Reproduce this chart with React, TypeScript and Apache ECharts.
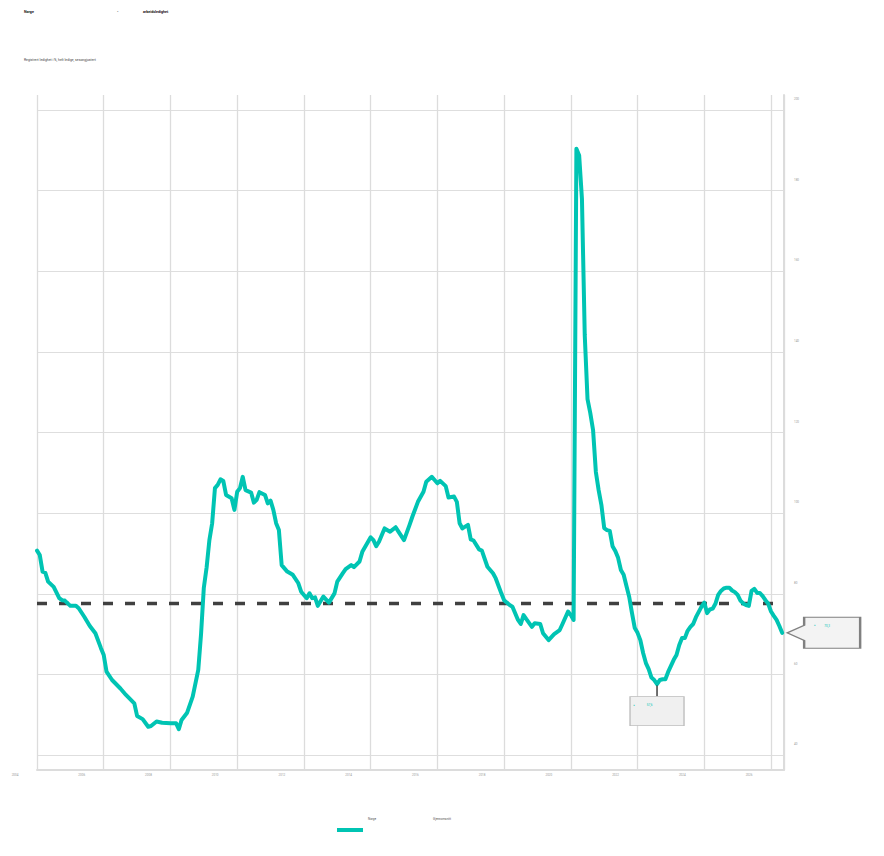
import React, { useEffect, useRef } from "react";
import * as echarts from "echarts";

// ---- data ----
const dates: string[] = [
  "2004-01","2004-02","2004-03","2004-04","2004-05","2004-07","2004-09","2004-10","2004-11",
  "2005-01","2005-03","2005-04","2005-06","2005-08","2005-10","2005-12",
  "2006-01","2006-02","2006-04","2006-07","2006-09","2006-12",
  "2007-01","2007-03","2007-05","2007-06","2007-08","2007-10",
  "2008-01","2008-03","2008-04","2008-05","2008-07","2008-09","2008-11","2008-12",
  "2009-01","2009-02","2009-03","2009-04","2009-05","2009-06","2009-07","2009-08","2009-09","2009-11","2009-12",
  "2010-01","2010-02","2010-03","2010-04","2010-06","2010-07","2010-08","2010-09","2010-11","2010-12",
  "2011-01","2011-02","2011-03","2011-04","2011-05","2011-07","2011-09","2011-11","2011-12",
  "2012-01","2012-02","2012-03","2012-04","2012-05","2012-06","2012-08","2012-10","2012-12",
  "2013-01","2013-03","2013-04","2013-06","2013-07","2013-09","2013-10",
  "2014-01","2014-02","2014-03","2014-04","2014-06","2014-08","2014-10","2014-11",
  "2015-01","2015-03","2015-04","2015-06","2015-08","2015-09","2015-11","2015-12",
  "2016-01","2016-02","2016-04","2016-05","2016-07","2016-08","2016-09","2016-10","2016-12",
  "2017-01","2017-02","2017-04","2017-05","2017-07","2017-09","2017-10","2017-12",
  "2018-01","2018-03","2018-04","2018-06","2018-07","2018-08","2018-09","2018-11","2018-12",
  "2019-02","2019-03","2019-05","2019-07","2019-09","2019-10","2019-12",
  "2020-01","2020-02","2020-03","2020-04","2020-05","2020-06","2020-07","2020-08","2020-09","2020-10","2020-11","2020-12",
  "2021-01","2021-02","2021-03","2021-04","2021-05","2021-06","2021-07","2021-08","2021-09","2021-10","2021-11","2021-12",
  "2022-01","2022-02","2022-03","2022-04","2022-05","2022-06","2022-07","2022-08","2022-09","2022-10","2022-11","2022-12",
  "2023-01","2023-02","2023-03","2023-04","2023-05","2023-06","2023-07","2023-08","2023-09","2023-10","2023-11","2023-12",
  "2024-01","2024-02","2024-03","2024-04","2024-05","2024-06","2024-07","2024-08","2024-09","2024-10","2024-11","2024-12",
  "2025-01","2025-02","2025-03","2025-04","2025-05","2025-06","2025-07","2025-08","2025-09","2025-10","2025-11","2025-12",
  "2026-01","2026-02","2026-03","2026-04","2026-05",
];

const values: number[] = [
  90.7,89.6,85.5,85.2,83.0,81.7,78.9,78.4,78.3,
  77.0,77.0,76.4,74.3,72.0,70.2,66.5,
  64.8,60.7,58.6,56.5,54.9,52.8,
  49.7,48.9,47.0,47.2,48.3,48.0,
  47.9,47.9,46.4,48.7,50.5,54.5,61.1,70.0,
  81.5,86.5,93.3,97.5,106.2,107.0,108.4,108.0,104.5,103.7,100.8,
  105.3,106.2,109.0,105.7,105.1,102.6,103.3,105.2,104.5,102.4,
  103.1,100.8,97.5,95.8,87.1,85.5,84.7,82.6,80.5,
  79.7,78.9,80.1,78.9,79.1,77.0,79.3,77.8,80.1,
  83.0,85.1,86.1,87.1,86.6,88.0,90.4,
  94.0,93.3,91.8,92.9,96.2,95.4,96.5,95.4,
  93.3,97.1,99.1,102.8,105.3,107.8,109.0,108.2,
  107.4,108.0,106.7,103.9,104.1,102.8,97.5,96.2,97.1,
  93.5,93.2,91.0,90.7,86.7,85.1,83.8,80.1,
  78.4,77.2,76.8,73.5,72.5,74.7,73.7,71.8,72.7,
  72.5,70.2,68.5,70.0,71.0,72.5,75.6,
  74.7,73.5,190.4,188.7,177.9,144.2,128.3,124.8,120.6,110.2,105.7,102.0,
  96.3,95.8,95.6,91.8,90.6,88.9,85.9,84.7,81.9,79.2,75.2,71.5,
  70.3,68.5,65.3,62.8,61.3,59.2,58.6,57.6,58.6,58.8,58.8,60.6,
  62.1,63.6,64.8,67.3,69.0,69.0,70.8,71.8,72.5,74.2,75.5,76.8,
  77.8,75.2,76.1,76.3,77.5,79.7,80.7,81.3,81.5,81.5,80.8,80.4,
  79.7,78.3,77.6,77.2,77.0,80.7,81.2,80.2,80.2,79.4,78.4,77.5,
  75.6,74.5,73.5,72.0,70.3,
];

const averageValue = 77.6;
const annotatedDates = ["2022-08", "2026-05"];

const seriesName = "Norge";
const averageName = "Gjennomsnitt";
const titleLeft = "Norge";
const titleSep = "-";
const titleRight = "arbeidsledighet";
const subtitle = "Registrert ledighet i %, helt ledige, sesongjustert";

const xMin = 2004;
const xMax = 2026.389;
const xInterval = 2;
const yMin = 40;
const yMax = 200;
const yInterval = 20;

const TEAL = "#00c4b3";
const FONT = "Roboto, 'Noto Sans', sans-serif";
// legend icon: a bar sitting low in a square box, so the label reads above it
const LEGEND_ICON = "path://M0,0 h0.5 v0.02 h-0.5 Z M0,22 h26 v4 h-26 Z";

const toYear = (s: string) => {
  const [y, m] = s.split("-").map(Number);
  return y + (m - 1) / 12;
};

export default function App() {
  const ref = useRef<HTMLDivElement>(null);

  useEffect(() => {
    if (!ref.current) return;
    const chart = echarts.init(ref.current, undefined, { renderer: "svg" });

    const lineData = dates.map((d, i) => [toYear(d), values[i]]);
    const first = toYear(dates[0]);
    const last = toYear(dates[dates.length - 1]);
    const avgData = [
      [first, averageValue],
      [last, averageValue],
    ];
    const minIdx = dates.indexOf(annotatedDates[0]);
    const lastIdx = dates.indexOf(annotatedDates[1]);
    const fmt = (v: number) => v.toFixed(1).replace(".", ",");

    const option: any = {
      animation: false,
      textStyle: { fontFamily: FONT },
      graphic: [
        { type: "text", left: 24, top: 10, style: { text: titleLeft, font: `bold 3.6px ${FONT}`, fill: "#111" } },
        { type: "text", left: 117, top: 10, style: { text: titleSep, font: `bold 3.6px ${FONT}`, fill: "#111" } },
        { type: "text", left: 143, top: 10, style: { text: titleRight, font: `bold 3.6px ${FONT}`, fill: "#111" } },
        { type: "text", left: 24, top: 58, style: { text: subtitle, font: `3.4px ${FONT}`, fill: "#444" } },
      ],
      legend: {
        left: 337,
        top: 806,
        padding: 0,
        itemWidth: 26,
        itemHeight: 26,
        itemGap: 26,
        textStyle: { fontSize: 3, color: "#555" },
        data: [
          { name: seriesName, icon: LEGEND_ICON, itemStyle: { color: TEAL } },
          { name: averageName, icon: LEGEND_ICON, itemStyle: { color: "#ffffff", opacity: 0 } },
        ],
      },
      grid: [
        { left: 37, right: 100, top: 110, bottom: 101 },
        { left: 37, right: 100, top: 95, bottom: 86 },
      ],
      xAxis: [
        {
          gridIndex: 0,
          type: "value",
          min: xMin,
          max: xMax,
          interval: xInterval,
          show: false,
          splitLine: { show: false },
        },
        {
          gridIndex: 1,
          type: "value",
          min: xMin,
          max: xMax,
          interval: xInterval,
          axisLine: { show: true, lineStyle: { color: "#dcdcdc", width: 2 } },
          axisTick: { show: false },
          splitLine: { show: true, lineStyle: { color: "#dcdcdc", width: 1.3 } },
          axisLabel: {
            fontSize: 3,
            color: "#999",
            margin: 3,
            padding: [0, 44, 0, 0],
            showMaxLabel: false,
            formatter: (v: number) => String(Math.round(v)),
          },
        },
      ],
      yAxis: [
        {
          gridIndex: 0,
          type: "value",
          position: "right",
          min: yMin,
          max: yMax,
          interval: yInterval,
          axisLine: { show: false },
          axisTick: { show: false },
          splitLine: { show: true, lineStyle: { color: "#dedede", width: 1 } },
          axisLabel: {
            fontSize: 3,
            color: "#999",
            margin: 10,
            verticalAlign: "bottom",
            lineHeight: 22,
          },
        },
        {
          gridIndex: 1,
          type: "value",
          position: "right",
          min: 0,
          max: 1,
          axisLine: { show: true, lineStyle: { color: "#dcdcdc", width: 2 } },
          axisTick: { show: false },
          axisLabel: { show: false },
          splitLine: { show: false },
        },
      ],
      series: [
        {
          name: averageName,
          type: "line",
          xAxisIndex: 0,
          yAxisIndex: 0,
          data: avgData,
          symbol: "none",
          lineStyle: { color: "#404040", width: 3.5, type: [10, 12] },
          itemStyle: { color: "#404040" },
          z: 3,
        },
        {
          name: seriesName,
          type: "line",
          xAxisIndex: 0,
          yAxisIndex: 0,
          data: lineData,
          symbol: "none",
          lineStyle: { color: TEAL, width: 4, join: "round", cap: "round" },
          itemStyle: { color: TEAL },
          z: 4,
          markPoint: {
            silent: true,
            data: [
              {
                coord: lineData[minIdx],
                symbol: "rect",
                symbolSize: [1.3, 11],
                symbolOffset: [0, 7],
                itemStyle: { color: "#222" },
                label: { show: false },
              },
              {
                coord: lineData[minIdx],
                symbol: "rect",
                symbolSize: [54, 29],
                symbolOffset: [0, 27],
                itemStyle: { color: "#f0f0f0", borderColor: "#bdbdbd", borderWidth: 1 },
                label: {
                  show: true,
                  position: [4, 3],
                  formatter: `{m|●}    {v|${fmt(values[minIdx])}}`,
                  rich: {
                    m: { fontSize: 2.5, color: TEAL },
                    v: { fontSize: 3, color: TEAL },
                  },
                },
              },
              {
                coord: lineData[lastIdx],
                symbol: "path://M0,15.5 L17,8 L17,0 L73,0 L73,31 L17,31 L17,23 Z",
                symbolSize: [73, 31],
                symbolOffset: [41.5, 0],
                itemStyle: { color: "#f3f3f3", borderColor: "#808080", borderWidth: 1.6 },
                label: {
                  show: true,
                  position: [28, 3],
                  formatter: `{m|●}   {v|${fmt(values[lastIdx])}}`,
                  rich: {
                    m: { fontSize: 2.5, color: TEAL },
                    v: { fontSize: 3, color: TEAL },
                  },
                },
              },
            ],
          },
        },
      ],
    };

    chart.setOption(option);
    return () => chart.dispose();
  }, []);

  return (
    <div
      ref={ref}
      style={{ position: "fixed", left: 0, top: 0, width: 884, height: 856, background: "#fff" }}
    />
  );
}
